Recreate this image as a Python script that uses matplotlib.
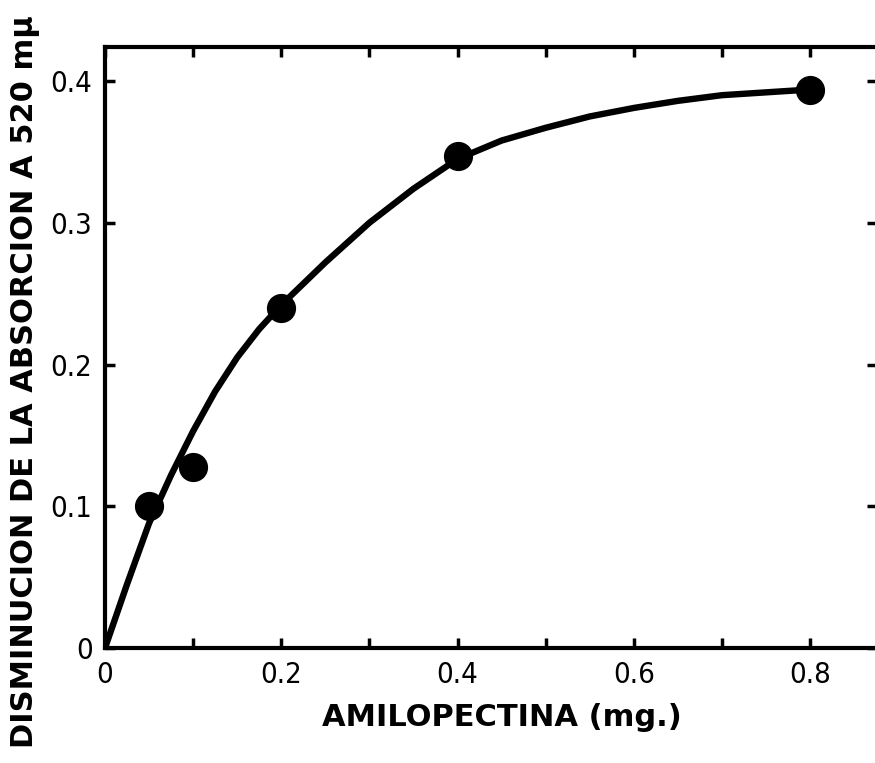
import matplotlib
matplotlib.use("Agg")
import matplotlib.pyplot as plt
from matplotlib.ticker import FixedLocator, FixedFormatter

# Measured points
amilopectina = [0.05, 0.10, 0.20, 0.40, 0.80]
disminucion = [0.100, 0.128, 0.240, 0.347, 0.394]

# Hand-drawn saturation curve through the measurements
curve_x = [0.0, 0.025, 0.05, 0.075, 0.10, 0.125, 0.15, 0.175, 0.20,
           0.25, 0.30, 0.35, 0.40, 0.45, 0.50, 0.55, 0.60, 0.65,
           0.70, 0.75, 0.80]
curve_y = [0.0, 0.045, 0.088, 0.122, 0.153, 0.181, 0.205, 0.225, 0.242,
           0.272, 0.300, 0.324, 0.345, 0.358, 0.367, 0.375, 0.381, 0.386,
           0.390, 0.392, 0.394]

x_ticks = [0.0, 0.1, 0.2, 0.3, 0.4, 0.5, 0.6, 0.7, 0.8]
x_labels = ["0", "", "0.2", "", "0.4", "", "0.6", "", "0.8"]
y_ticks = [0.0, 0.1, 0.2, 0.3, 0.4]
y_labels = ["0", "0.1", "0.2", "0.3", "0.4"]

fig = plt.figure(figsize=(8.75, 7.63), dpi=100)
ax = fig.add_axes([0.12, 0.1507, 0.8823, 0.7877])

ax.plot(curve_x, curve_y, color="black", lw=4.6, solid_capstyle="round",
        solid_joinstyle="round", zorder=2)
ax.plot(amilopectina, disminucion, "o", color="black", ms=20, zorder=3)

ax.set_xlim(0, 0.876)
ax.set_ylim(0, 0.424)

ax.xaxis.set_major_locator(FixedLocator(x_ticks))
ax.xaxis.set_major_formatter(FixedFormatter(x_labels))
ax.yaxis.set_major_locator(FixedLocator(y_ticks))
ax.yaxis.set_major_formatter(FixedFormatter(y_labels))
ax.tick_params(axis="both", which="major", direction="in", length=7,
               width=2.5, top=True, right=True, color="black")
ax.tick_params(axis="x", pad=9)
ax.tick_params(axis="y", pad=9)
for lab in ax.get_xticklabels() + ax.get_yticklabels():
    lab.set_fontfamily("DejaVu Sans")
    lab.set_fontstretch("condensed")
    lab.set_fontsize(21)

for s in ax.spines.values():
    s.set_linewidth(3)
    s.set_color("black")

fig.text(0.574, 0.059, "AMILOPECTINA (mg.)", ha="center", va="center",
         fontsize=22, fontweight="bold", family="DejaVu Sans")
fig.text(0.029, 0.500, "DISMINUCION DE LA ABSORCION A 520 mμ", rotation=90,
         ha="center", va="center", fontsize=22, fontweight="bold",
         family="DejaVu Sans")

fig.savefig("out.png", dpi=100)
